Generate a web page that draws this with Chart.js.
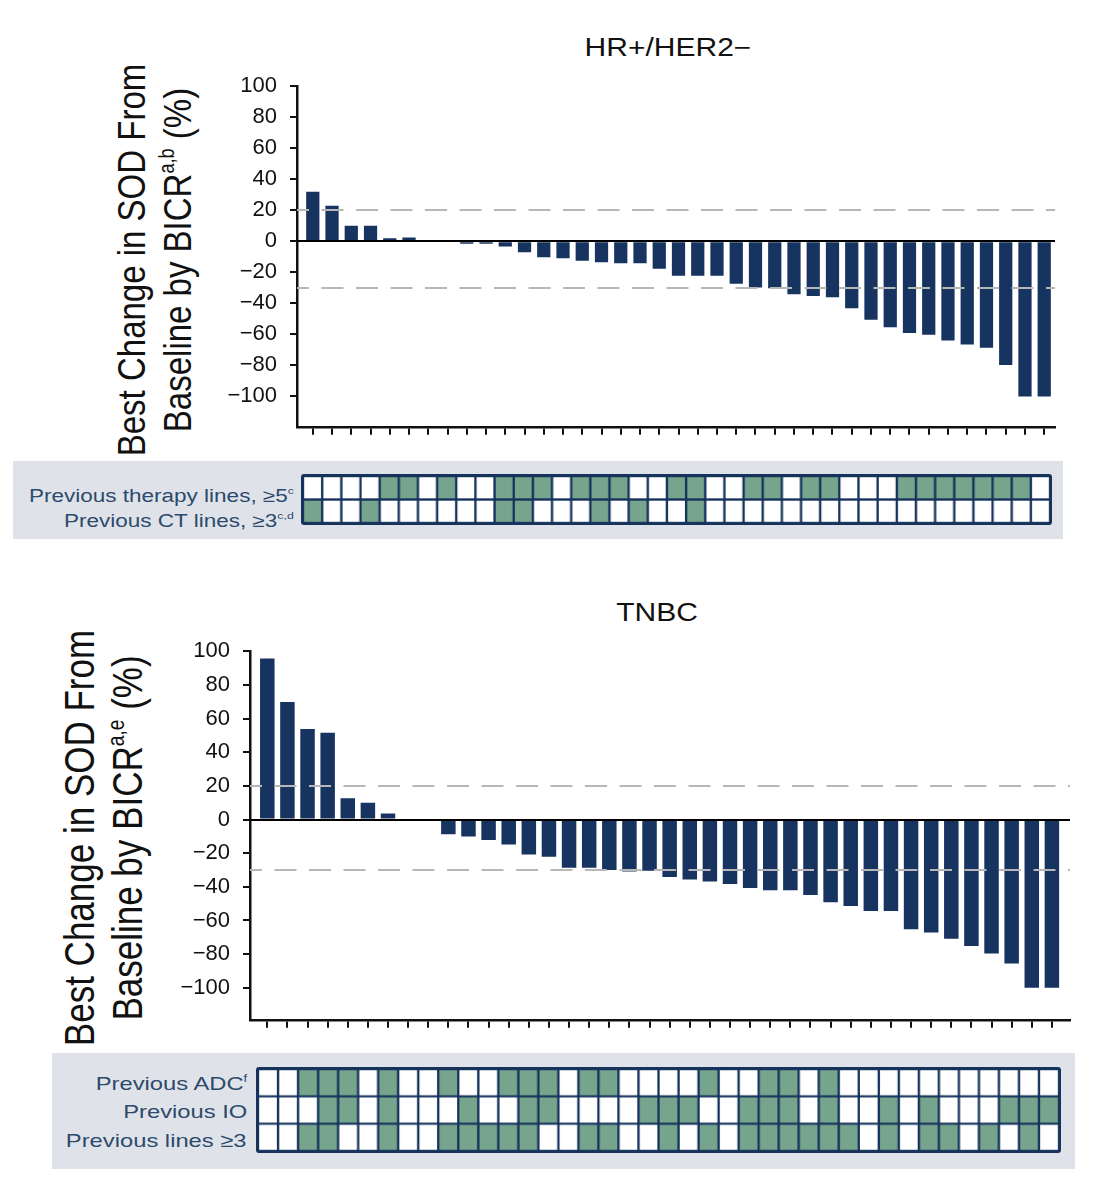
<!DOCTYPE html>
<html>
<head>
<meta charset="utf-8">
<title>Best change in SOD from baseline by BICR</title>
<script src="https://cdn.jsdelivr.net/npm/chart.js@4.4.1/dist/chart.umd.min.js"></script>
<style>
  html, body { margin: 0; padding: 0; }
  body { position: relative; width: 1102px; height: 1200px; background: #fff; overflow: hidden;
         font-family: "Liberation Sans", Arial, Helvetica, sans-serif; color: #111; }
  canvas { position: absolute; }
  .title { position: absolute; width: 300px; text-align: center; font-size: 25px; line-height: 28px;
           transform: scaleX(1.2); white-space: nowrap; }
  .ytitle { position: absolute; text-align: center; white-space: nowrap;
            transform: scaleX(1.2) rotate(-90deg); }
  .panel { position: absolute; background: #dfe3e9; }
  .rowlab { position: absolute; height: 26px; line-height: 26px; color: #2d4a6c; white-space: nowrap;
            text-align: right; transform-origin: right center; transform: scaleX(1.25); }
  .cells { background: #16335c; border: 2px solid #16335c; border-radius: 3px; }
  sup { font-size: 0.55em; line-height: 0; vertical-align: 0.8em; }
</style>
</head>
<body>

<!-- HR+/HER2- panel -->
<div class="title" style="left:518px; top:33px;">HR+/HER2−</div>
<div class="ytitle" style="left:-75px; top:222px; width:460px; height:76px; font-size:33px; line-height:38px;">Best Change in SOD From<br>Baseline by BICR<sup>a,b</sup> (%)</div>
<canvas id="hrChart" width="880" height="393" style="left:190px; top:60px;"></canvas>

<div class="panel" style="left:13px; top:461px; width:1050px; height:78px;"></div>
<div class="rowlab" style="right:808px; top:483px; font-size:18px;">Previous therapy lines, ≥5<sup>c</sup></div>
<div class="rowlab" style="right:808px; top:508px; font-size:18px;">Previous CT lines, ≥3<sup>c,d</sup></div>
<canvas id="hrCells" class="cells" width="751" height="51" style="left:301px; top:474px;"></canvas>

<!-- TNBC panel -->
<div class="title" style="left:507px; top:598px;">TNBC</div>
<div class="ytitle" style="left:-136px; top:798px; width:480px; height:80px; font-size:35px; line-height:40px;">Best Change in SOD From<br>Baseline by BICR<sup>a,e</sup> (%)</div>
<canvas id="tnChart" width="945" height="421" style="left:140px; top:625px;"></canvas>

<div class="panel" style="left:52px; top:1053px; width:1023px; height:116px;"></div>
<div class="rowlab" style="right:855px; top:1071px; font-size:19px;">Previous ADC<sup>f</sup></div>
<div class="rowlab" style="right:855px; top:1099px; font-size:19px;">Previous IO</div>
<div class="rowlab" style="right:855px; top:1128px; font-size:19px;">Previous lines ≥3</div>
<canvas id="tnCells" class="cells" width="805" height="86" style="left:255.5px; top:1067px;"></canvas>

<script>
// best % change from baseline, one bar per patient (waterfall order)
const hrChange = [32, 23, 10, 10, 2, 2.4, 0, 0, -1.5, -1.5, -3.4, -7, -10.3, -10.9, -12.5, -13.5,
  -14.1, -14.1, -17.7, -22.2, -22.2, -22.2, -27.4, -29.8, -30.2, -34.1, -35.3, -36.1, -43.1,
  -50.6, -55.4, -59.1, -60.3, -63.9, -66.5, -68.7, -79.8, -100, -100];
const tnChange = [95.6, 69.8, 53.8, 51.6, 12.7, 9.9, 3.5, 0, 0, -8.8, -10.1, -12.2, -14.9, -20.8,
  -22.1, -28.7, -28.7, -30, -30.9, -30.5, -34.1, -35.7, -36.8, -38.3, -40.7, -42, -42, -44.9,
  -49.2, -51.4, -54.3, -54.3, -65.2, -67.2, -70.9, -75.1, -79.6, -85.5, -100, -100];

// patient characteristics under each bar (1 = yes, green cell)
const hrPriorTherapy5 = [0,0,0,0,1,1,0,1,0,0,1,1,1,0,1,1,1,0,0,1,1,0,0,1,1,0,1,1,0,0,0,1,1,1,1,1,1,1,0];
const hrPriorCT3      = [1,0,0,1,0,0,0,0,0,0,1,1,0,0,0,1,0,1,0,0,1,0,0,0,0,0,0,0,0,0,0,0,0,0,0,0,0,0,0];
const tnPriorADC    = [0,0,1,1,1,0,1,0,0,1,0,0,1,1,1,0,1,1,0,0,0,0,1,0,0,1,1,0,1,0,0,0,0,0,0,0,0,0,0,0];
const tnPriorIO     = [0,0,0,1,1,0,1,0,0,0,1,0,0,1,1,0,0,0,0,1,1,1,0,0,1,1,1,0,1,0,0,1,0,1,0,0,0,1,1,1];
const tnPriorLines3 = [0,0,1,1,0,0,1,0,0,1,1,1,1,1,0,0,1,1,0,0,1,0,1,0,1,1,1,1,1,1,0,1,0,1,1,0,1,0,1,0];

// y tick labels and response cut-offs (PD +20%, PR -30%)
const yTickVals = [-100, -80, -60, -40, -20, 0, 20, 40, 60, 80, 100];
const refCuts = [20, -30];

const NAVY = '#17335f';
const CELL_NAVY = '#16335c';
const GREEN = '#77a48c';

Chart.defaults.font.family = "'Liberation Sans', Arial, sans-serif";
Chart.defaults.color = '#111';

//dashed cut-off lines and the zero line, drawn on the y scale
const refLines = {
  id: 'refLines',
  afterDatasetsDraw(chart) {
    const {ctx, chartArea: a, scales: {y}} = chart;
    ctx.save();
    ctx.lineWidth = 2;
    ctx.strokeStyle = '#b7b7b7';
    ctx.setLineDash([22, 12.5]);
    ctx.lineDashOffset = 10;
    refCuts.forEach(v => {
      const py = Math.round(y.getPixelForValue(v));
      ctx.beginPath(); ctx.moveTo(a.left, py); ctx.lineTo(a.right, py); ctx.stroke();
    });
    ctx.setLineDash([]);
    ctx.strokeStyle = '#000';
    const z = Math.round(y.getPixelForValue(0));
    ctx.beginPath(); ctx.moveTo(a.left, z); ctx.lineTo(a.right, z); ctx.stroke();
    ctx.restore();
  }
};

function waterfall(id, values, xMin, xMax, yMin, barPct, axisW, padTop) {
  return new Chart(document.getElementById(id), {
    type: 'bar',
    data: {
      datasets: [{
        data: values.map((v, i) => ({x: i, y: v})),
        backgroundColor: NAVY,
        borderWidth: 0,
        barPercentage: barPct,
        categoryPercentage: 0.8
      }]
    },
    options: {
      responsive: false,
      animation: false,
      layout: { padding: { top: padTop, right: 15, left: 0, bottom: 0 } },
      plugins: { legend: { display: false }, tooltip: { enabled: false } },
      scales: {
        x: {
          type: 'linear', min: xMin, max: xMax, offset: false,
          afterFit: s => { s.height = 10; },
          afterBuildTicks: s => { s.ticks = values.map((v, i) => ({value: i})); },
          ticks: { display: false },
          grid: { offset: false, drawOnChartArea: false, tickLength: 8, color: '#111', lineWidth: 2 },
          border: { display: true, color: '#111', width: 2.5 }
        },
        y: {
          min: yMin, max: 100,
          afterFit: s => { s.width = axisW; },
          afterBuildTicks: s => { s.ticks = yTickVals.map(v => ({value: v})); },
          ticks: {
            padding: 13,
            font: { size: 22 },
            callback: v => v < 0 ? '\u2212' + (-v) : v
          },
          grid: { drawOnChartArea: false, tickLength: 7, color: '#111', lineWidth: 2 },
          border: { display: true, color: '#111', width: 2.5 }
        }
      }
    },
    plugins: [refLines]
  });
}

// rows given top to bottom; each row is one stacked bar dataset
function cellGrid(id, rows) {
  return new Chart(document.getElementById(id), {
    type: 'bar',
    data: {
      labels: rows[0].map((_, i) => i + 1),
      datasets: rows.slice().reverse().map(r => ({
        data: r.map(() => 1),
        backgroundColor: r.map(f => f ? GREEN : '#fff'),
        borderColor: CELL_NAVY,
        borderWidth: 1.5,
        borderSkipped: false,
        barPercentage: 1,
        categoryPercentage: 1
      }))
    },
    options: {
      responsive: false,
      animation: false,
      plugins: { legend: { display: false }, tooltip: { enabled: false } },
      scales: {
        x: { display: false, stacked: true },
        y: { display: false, stacked: true, min: 0, max: rows.length }
      }
    }
  });
}

waterfall('hrChart', hrChange, -0.82, 38.56, -119.6, 0.86, 107, 14);
waterfall('tnChart', tnChange, -0.86, 39.9, -119, 0.9, 110, 15);
cellGrid('hrCells', [hrPriorTherapy5, hrPriorCT3]);
cellGrid('tnCells', [tnPriorADC, tnPriorIO, tnPriorLines3]);
</script>
</body>
</html>
